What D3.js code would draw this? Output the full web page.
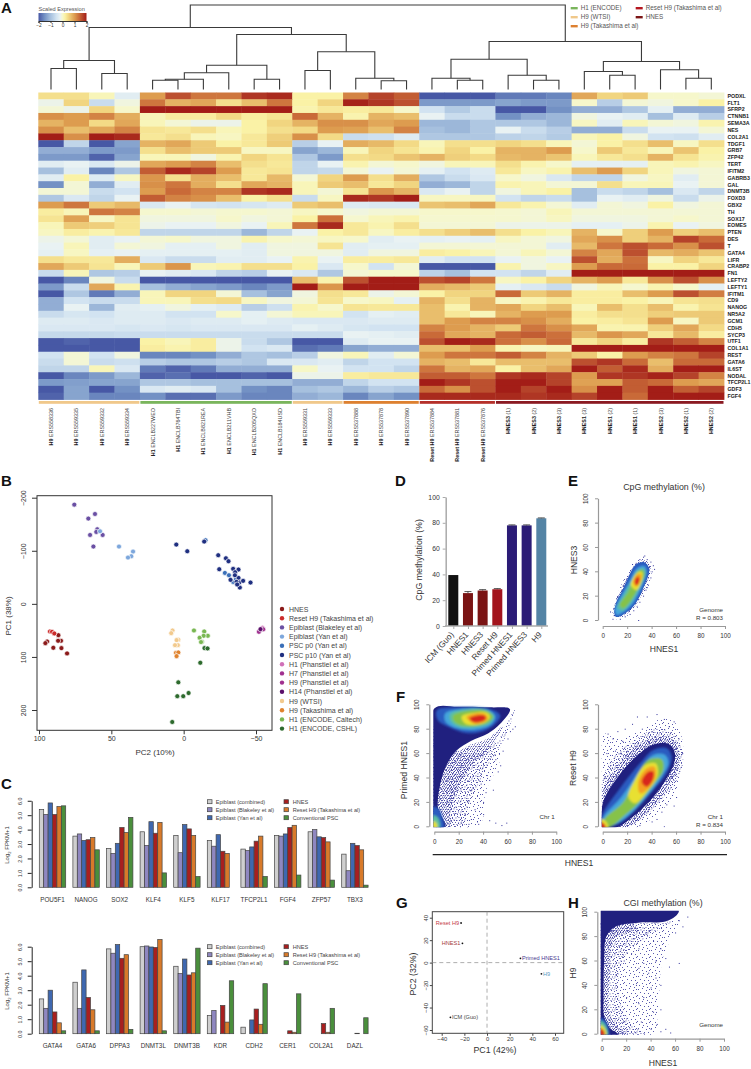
<!DOCTYPE html>
<html><head><meta charset="utf-8">
<script src="https://cdn.jsdelivr.net/npm/d3@7/dist/d3.min.js"></script>
<style>
html,body{margin:0;padding:0;background:#fff}
svg{display:block}
text{font-family:"Liberation Sans",Arial,sans-serif;fill:#333}
</style></head><body><svg id="c" width="751" height="1069"></svg>
<script>
// ---------- A: heatmap ----------
const genes=["PODXL","FLT1","SFRP2","CTNNB1","SEMA3A","NES","COL2A1","TDGF1","GRB7","ZFP42","TERT","IFITM2","GABRB3","GAL","DNMT3B","FOXD3","GBX2","TH","SOX17","EOMES","PTEN","DES","T","GATA4","LIFR","CRABP2","FN1","LEFTY2","LEFTY1","IFITM1","CD9","NANOG","NR5A2","GCM1","CDH5","SYCP3","UTF1","COL1A1","REST","GATA6","IL6ST","NODAL","TFCP2L1","GDF3","FGF4"];
const samplePrefix=["H9","H9","H9","H9","H1","H1","H1","H1","H1","H1","H9","H9","H9","H9","H9","Reset H9","Reset H9","Reset H9","HNES3","HNES3","HNES3","HNES1","HNES1","HNES1","HNES2","HNES2","HNES2"];
const sampleSuffix=["ERS558336","ERS559335","ERS559332","ERS559334","ENCLB227WEO","ENCLB764TBI","ENCLB821REA","ENCLB211VHB","ENCLB205QXO","ENCLB184USD","ERS559331","ERS559333","ERS537888","ERS537878","ERS537890","ERS537884","ERS537881","ERS537876","(1)","(2)","(3)","(3)","(2)","(1)","(3)","(1)","(2)"];
const heatValues=[
[.4,.4,.1,-.3,1,1.6,1.3,1.3,1.8,1.9,.2,.2,1.2,1.7,1.5,-2,-2,-2,-1.7,-1.7,-1.6,.9,.5,.6,0,0,-.05],
[-.15,.5,-.6,-.1,1.3,.8,.9,.4,.7,1.3,.2,.5,1.95,1.8,1.6,-1.4,-1.4,-1.4,-1.3,-1.4,-1.4,0,-.8,-.05,-.1,0,.2],
[-.05,-.15,.5,0,2,2,2,2,2,2,.15,.3,.25,.3,0,-.5,-.85,-.6,-2,-2,-1.5,-1.2,-1.2,-.9,-.25,-1.2,-1.2],
[1.1,1,1.2,.85,.1,.25,.25,.45,.25,.35,1.4,.8,.15,.8,.7,-.2,-.6,-.6,-1.5,-1.2,-1.1,-.1,-.2,-.3,-1,-.35,-.8],
[.8,1,.45,.9,.1,-.05,-.15,-.15,.2,.5,.8,1.1,1.1,.9,1,-1.1,-1.1,-.9,-.9,-.9,-1.1,.05,-.3,.1,-.05,-.1,.15],
[1.1,.7,.9,1.2,.35,.3,.4,.1,.2,.4,.45,1,.95,.7,1.2,-1,-1.1,-.9,-.2,-.6,-.8,-1.2,-1.2,-.6,-.2,-.2,-.05],
[2,1.1,2,1.9,.3,.4,.1,.05,.3,.55,1.1,.45,-.6,-.55,-.35,-.9,-.9,-.9,-.75,-.7,-.85,.1,.2,-.1,-.5,-.55,-.3],
[-2,-.7,-2,-1.3,.8,.9,.6,.2,.3,.6,-.8,-.2,.85,.75,.45,.1,.4,.4,.5,.4,.1,-.05,.2,.4,.7,.05,.4],
[-1.2,-1.2,-1.4,-1.4,.4,.7,.6,.6,.05,.05,-1.3,-1.1,.1,.5,.35,.15,.5,.2,.8,.8,1,0,.6,.3,.1,.65,.2],
[-1.4,-1.4,-1.9,-1.3,.1,.1,-.1,.15,.5,.35,-.9,-1.4,.4,.45,.65,.8,.55,.45,.75,.8,.65,.1,.3,.4,.8,.35,.15],
[-.3,-.2,-.4,-.15,.9,1,1.2,.7,.4,.3,-.7,-.2,.15,-.05,0,-.1,.1,.1,.4,.15,0,-.25,-.25,-.25,.1,.15,.05],
[-1,-.3,-1.6,-.9,1.5,1.9,1.7,1,.3,.35,-.7,-.65,-.05,-.2,-.05,-.25,-.5,-.35,.3,.05,.15,.7,1,.5,.1,-.1,-.05],
[-.3,.2,-.35,.05,1.05,.4,.85,.7,.3,.75,-.05,.5,1,.4,.85,-.9,-.6,-.4,0,-.1,-.4,-.7,-.7,-.1,.05,-.3,-.05],
[-1.5,-.05,-1.2,-.3,1.1,1.3,.85,.4,.9,.8,.1,.6,.7,.3,.5,-1.2,-1.1,-.7,.15,.1,-.05,-.05,.4,.1,.1,-.2,-.05],
[-.05,-.05,-.6,-.5,1,1.4,1.2,1.2,1.8,1.9,.1,-.05,.35,1.05,.8,-.4,-.2,-.7,-.1,.1,.2,-1,-.6,-.7,-1,-.4,-.7],
[-.9,-.4,-.7,-.2,1.5,1.2,1.1,.7,.2,.4,-.6,.05,1.9,1.8,2,.05,.05,.05,-.5,-.7,-.6,-1,-.2,-.3,-.1,-.6,-.15],
[1,1.3,.6,.75,-.4,-.2,-.45,-.5,-.45,-.35,.6,.7,-.35,-.4,-.4,.65,.7,.9,.3,.15,-.05,-.3,-.05,-.1,.2,-.1,-.05],
[.25,.1,1.3,1.2,-.02,-.02,-.05,-.02,-.02,-.05,.05,-.02,-.1,-.05,-.05,0,0,0,-.02,-.05,.1,-.05,-.05,-.05,-.05,-.05,-.05],
[.35,.95,.05,.35,-.1,-.1,-.1,0,-.1,-.05,.2,1.35,-.02,.1,.15,-.02,-.02,-.02,-.02,-.05,.05,-.1,-.1,-.1,-.05,0,-.05],
[.1,.6,.55,.35,-.15,-.2,-.2,-.1,-.2,.1,1.3,1.9,.3,.15,.4,-.05,-.05,-.05,-.15,-.15,-.15,-.25,-.25,-.15,.15,-.2,-.1],
[.05,.25,.15,.3,-.7,-.7,-.7,-.7,-1.1,-.7,-.2,.2,.3,.05,.25,.4,.55,.7,.4,.2,.1,.8,0,.55,1,.55,.7],
[-.15,-.05,-.3,-.2,-.05,0,-.1,-.1,.15,0,-.05,.05,0,-.3,-.2,-.25,-.2,-.25,.05,-.05,-.1,.9,1.1,.55,.8,1.7,1.4],
[-.2,.1,-.3,-.05,-.1,-.25,-.25,-.1,-.3,-.1,-.1,.35,-.3,-.25,-.25,-.05,-.05,-.05,-.05,-.05,-.3,.75,1.3,1.6,1.4,1.1,1.6],
[-.25,.05,-.25,-.2,-.25,-.25,-.25,-.25,-.3,-.1,-.1,-.1,-.3,-.1,-.1,.25,.2,.1,-.05,.1,-.05,1.2,.9,1.6,.75,.85,.65],
[.4,.3,.3,.85,-.4,-.6,-.6,-.3,-.3,-.2,.15,-.2,.25,.25,.3,-.3,-.5,-.5,-.2,-.1,-.2,1.6,.85,1.35,.05,.5,.3],
[.9,.6,.35,.1,.6,1.05,.1,.15,.4,.4,.2,-.4,0,-.5,-.05,-2,-2,-2,.15,-.1,.05,1,1.4,1.4,.2,.2,.5],
[-.6,.1,-.9,-.8,-.2,-.3,-.4,-.7,-.8,-.2,-.4,-.9,-.05,0,0,-.75,-1,-.5,-.5,-.7,-.3,2,2,2,2,2,2],
[-2,-1.6,-.1,-.6,-2,-2,-2,-2,-2,-2,.7,.15,1.6,2,2,1.6,1.7,1.3,.05,.2,.5,.8,1,.3,1.1,1.6,1.1],
[-1.4,-.6,.9,.15,-1,-1.2,-1.3,-1.4,-1.6,-1.4,2,1.05,2,2,2,.85,.75,.6,-.25,-.4,-.6,-.1,.1,-.02,.15,0,-.25],
[-2,-.9,-1.7,-1.2,.1,.5,.5,-.05,-1,-1.3,-.1,.4,.3,-.15,-.05,.2,.5,.5,1.4,.6,.8,.25,.25,.7,1,1.6,1.25],
[-1.2,-.5,-.6,-.6,.1,.1,.4,.45,.05,-.1,-.05,.35,0,.05,-.25,.8,.4,.8,.05,.15,.3,.25,.25,.2,.1,.35,.4],
[-1.2,-.2,-1.1,-.3,-.25,-.1,-.25,-.35,-.8,-.55,.15,0,.35,.3,.3,.7,.15,.8,.9,.5,.7,.1,.7,.4,.7,.15,.35],
[-.6,-.45,-.5,-.35,-.35,-.5,-.5,0,-.25,-.05,.1,.1,-.5,-.25,-.3,.7,.3,.1,.8,1,1,.25,.4,.4,.55,.6,.6],
[-.35,-.35,-.4,-.35,-.35,-.4,-.35,-.35,-.25,-.35,-.4,-.4,-.4,-.35,-.35,.7,1,1.2,1.2,1.1,.85,.2,.25,.35,1,.05,.6],
[-.4,-.4,-.4,-.45,-.4,-.45,-.4,-.4,-.4,-.4,-.25,-.35,-.45,-.5,-.5,1.2,1,.8,.6,1.3,1.1,.9,.15,.15,.55,.9,.45],
[-.65,-.65,-.65,-.6,-.6,-.6,-.6,-.6,-.6,-.6,-.6,-.6,-.2,-.25,-.3,1.4,.9,.8,1.4,1.5,1.35,.75,1.05,.9,.3,.75,.25],
[-2,-1.9,-2,-2,.2,.1,.25,-.15,-.6,-.9,-2,-2,-.35,-.2,-.2,1.6,2,1.9,1.35,1.1,1.4,.3,.5,.25,1.8,1.5,1.2],
[-2,-2,-2,-2,.25,.15,.25,-.15,-.5,-.4,-1.8,-1.7,-1.3,-1.2,-1.2,.7,.7,1,.15,.05,.1,2,2,2,2,2,2],
[-.5,-.05,-.5,-.1,-1.6,-1.6,-1.5,-1.2,-.9,-1,-.8,-.1,.1,-.3,-.05,1,1.3,1.3,1.5,1.2,.8,.6,.2,1,1.2,1.3,1.7],
[-.6,-.05,-.6,-.55,-.8,-.9,-.9,-.8,-.9,-.4,-.4,-.3,-.7,-.5,-.5,.8,.7,.3,.7,.7,.7,1.6,1.8,1.4,.7,1.4,1.4],
[-.7,-.7,.1,-.4,-1.7,-1.9,-1.7,-1.2,-1.2,-1.2,.02,-.2,-.5,-.5,-.7,1.3,.8,.9,.2,.7,.9,2,1.5,1.9,.85,2,2],
[-2,-1.6,-1.4,-1.1,-1.9,-1.8,-2,-2,-1.9,-2,-.15,-.15,.25,.3,.3,1.5,1.5,1.3,1.8,1.9,1.7,1,1.8,1.8,1.95,1.7,1.2],
[-1.4,-1.35,-1.3,-1.3,-.9,-.9,-1,-1,-1,-1,-1.2,-1.2,-.7,-.5,-.5,2,1.8,1.6,2,2,1.7,.95,.95,1.5,1.4,1,.9],
[-2,-1.3,-2,-1.5,-.4,-.3,-.4,-1,-1.5,-1.6,-1,-.9,-1.1,-.8,-.9,1.4,1.1,1.6,2,1.7,2,1.1,2,1.5,2,1.5,1.7],
[-1.9,-1.3,-1.6,-1.6,-1.5,-1.8,-1.8,-1.4,-1.6,-1.6,-1.2,-1.1,-1.6,-1.3,-1.5,1.9,1.9,1.9,1.9,1.8,1.9,1.7,2,1.4,2,2,2]
];
const heatStops=[-2,-1.5,-1,-.5,-.2,0,.2,.5,1,1.4,1.7,2];
const heatColors=["#4758a5","#7391c4","#a6c0de","#d2e3f1","#e9f2f3","#f6f7cb","#faf2a6","#f1d580","#dd9c4f","#c96a38","#b5432a","#a31d17"];
const n=(h,a,b)=>({h,c:[a,b].map(v=>typeof v==="number"?{h:0,leaf:v}:v)});
const dendrogram=n(84.5,
  n(62,n(29,n(21,0,1),n(16,2,3)),
     n(55,n(24.3,n(16.7,n(10.3,n(9.3,4,5),6),7),n(10.3,8,9)),
          n(37.7,n(19,10,11),n(11.3,12,n(8.7,13,14))))),
  n(48,n(30.3,n(11.3,15,n(9.3,16,17)),n(14.3,18,n(9.3,19,20))),
       n(28,n(18,21,n(14.3,22,23)),n(19.7,24,n(11.3,25,26)))));
const stripGroups=[["#f0c88a",0,3],["#7ab55c",4,9],["#f0c88a",10,11],["#dd8030",12,14],["#b5302a",15,17],["#8a1a22",18,26]];
const legendALabels=[["H1 (ENCODE)","#7ab55c"],["H9 (WTSI)","#f0c88a"],["H9 (Takashima et al)","#dd8030"],["Reset H9 (Takashima et al)","#b5161f"],["HNES","#7b1515"]];

// ---------- B: PCA ----------
const pcaSeries=[
["HNES","#8b1a1a",[[86.6,59],[84.8,69.6],[86.8,69.6],[94.4,70.9],[95.6,74],[90.1,82.8],[84.5,83.4],[80.6,93.4]]],
["Reset H9 (Takashima et al)","#cc2b2b",[[92.4,52],[91,52.7],[89.4,55.8]]],
["Epiblast (Blakeley et al)","#6a4fa3",[[75.6,-186.9],[65.9,-160.6],[61.3,-169.3],[59.7,-140.5],[60.4,-135.5],[56,-129.8],[64.7,-129.8],[62.4,-107.9]]],
["Epiblast (Yan et al)","#7da7dc",[[57.8,-136.7],[44.7,-107.9],[35,-98.5],[36.2,-89.7],[38.5,-87.2]]],
["PSC p0 (Yan et al)","#3a6fb8",[[-15.1,-119.8],[-28.5,-58.3],[-31.3,-53.9],[-34.2,-41.4],[-36.1,-46.4]]],
["PSC p10 (Yan et al)","#1f2f80",[[5.1,-111.6],[-2.5,-99.1],[-14.2,-117.3],[-23.9,-91.6],[-29.2,-85.9],[-31,-80.3],[-24.6,-65.2],[-34.2,-65.9],[-37.9,-64.6],[-35.6,-59.6],[-37.9,-48.9],[-32.4,-45.2],[-38.4,-40.1],[-41.1,-43.3],[-46.2,-40.1],[-38.8,-30.7],[-36.5,-41.4],[-35.4,-53.9],[-37,-36.4]]],
["H1 (Phanstiel et al)","#d070b8",[[-54.5,45]]],
["H7 (Phanstiel et al)","#a0308f",[[-55,48]]],
["H9 (Phanstiel et al)","#a0308f",[[-52,52.7]]],
["H14 (Phanstiel et al)","#5b0f6a",[[-53.1,47.7]]],
["H9 (WTSI)","#f2ca8e",[[7.7,50.2],[8.6,55.2],[3.7,67.7],[4.9,68.3],[4,77.8],[6,77.8]]],
["H9 (Takashima et al)","#e0832e",[[5.3,92.2],[3.7,91.6],[4.9,98.5]]],
["H1 (ENCODE, Caltech)","#79b752",[[-7.1,50.2],[-14.2,52],[-16.7,60.2],[-13.8,60.2],[-11,64],[-12.6,71.5],[-12,72]]],
["H1 (ENCODE, CSHL)","#2d6a2d",[[-14.4,83.4],[-16.5,84],[-11.5,111],[3.7,147.9],[-3.4,168],[.3,174],[4.4,174],[7.9,222.6]]]
];

// ---------- C: bars ----------
const barSeries=["Epiblast (combined)","Epiblast (Blakeley et al)","Epiblast (Yan et al)","HNES","Reset H9 (Takashima et al)","Conventional PSC"];
const barColors=["#cfcfcf","#8f87c0","#3f68b0","#a81f1f","#d87a2a","#4a8f3c"];
const barGenesTop=["POU5F1","NANOG","SOX2","KLF4","KLF5","KLF17","TFCP2L1","FGF4","ZFP57","TBX3"];
const barValuesTop=[[5.4,5.05,5.85,5.05,5.6,5.65],[3.55,3.7,3.25,3.3,3.45,2.6],[2.7,2.35,3.05,4.15,3.8,4.85],[3.85,2.9,4.55,3.75,4.5,1],[3.6,2.4,4.35,4.05,3.6,.75],[3.25,2.85,3.65,2.5,2.35,0],[2.65,2.55,2.8,3.2,3.55,.75],[3.6,3.55,3.7,4.15,4.3,.85],[3.85,4,3.5,3.45,3.15,.5],[2.3,1.15,3.05,2.9,2.6,.15]];
const barGenesBottom=["GATA4","GATA6","DPPA3","DNMT3L","DNMT3B","KDR","CDH2","CER1","COL2A1","DAZL"];
const barValuesBottom=[[2.4,1.75,3,1.5,.75,.2],[3.55,1.75,4.4,2.5,1.65,.2],[5.85,5.55,6.15,5.2,5.45,.3],[6,6.05,5.98,5.95,6.5,.2],[4.65,4.15,5.15,4.05,4.2,5.9],[1.25,1.6,0,1.95,.8,3.65],[.45,0,.95,1.7,.65,3.45],[0,0,0,.2,.1,2.75],[0,0,0,.7,.1,1.75],[0,0,0,.03,0,1.1]];

// ---------- D: methylation bars ----------
const methSamples=["ICM (Guo)","HNES1","HNES3","Reset H9","Primed HNES1","Primed HNES3","H9"];
const methValues=[39.5,25.5,27.5,28.5,78,78,83.5];
const methErrors=[0,1.2,.7,.5,.4,.4,.3];
const methColors=["#111111","#7a1414","#7a1414","#a3151d","#2b1c76","#2b1c76","#5484a5"];

// ---------- density outlines, outermost first ----------
const densityColors=["#20207f","#2a5cc0","#45a5dc","#5cc0a0","#86c24a","#e8e030","#f5a020","#d8281a"];
const densityE=[
[1,[[9.5,6],[12,17],[15,22],[20,33],[27,45.5],[34,47.5],[38,42],[34,28],[25,11],[16,4],[11,2.5]]],
[2,[[10,8.2],[14,17.8],[21,30],[27.8,42.4],[34,44.3],[36,39.6],[31.9,27.3],[23.7,12.3],[15.5,5.5],[11.4,4]]],
[3,[[12,10],[17,20],[24,33],[29,41],[34,42],[35,38],[30,26],[23,14],[16,7.5]]],
[4,[[14,12.3],[21,23.2],[27,38.3],[31.9,41.5],[34,38.3],[29,26],[22.3,15],[16.8,9.6]]],
[5,[[23,28.7],[27.8,38.3],[31.9,39.6],[32.4,34],[27.8,24.6]]],
[6,[[25,31.4],[28.6,37.7],[31.3,37.7],[31,32.2],[27.2,27.3]]],
[7,[[26.4,32.8],[28.6,35.5],[30,34],[28.6,28.7],[26.7,29.3]]]
];
const densityF1=[
[0,[[0,96.5],[20,98],[46,97.5],[62,96],[54,84],[44,76],[30,70],[18,62],[10,50],[5,35],[3,15],[7,6],[9,0],[-1,-1],[-1,50]]],
[1,[[2,95],[18,97.5],[46,96],[54,91],[50,84],[40,78],[26,76.5],[13,81],[3,87]]],
[2,[[9,92.6],[21,96],[43,96],[50,90],[46,83],[32,79],[18,80.5],[9,86]]],
[3,[[13,92],[24,95.5],[43,95],[49,90],[45,84],[32,81],[19,82],[13,87]]],
[4,[[15.6,91],[29,95],[43,94.5],[48,90],[44,85],[32,82],[21,83],[15.6,87]]],
[5,[[22.4,90],[33,93],[43,93],[45.6,89.5],[41.5,85],[32,83],[25,84.5]]],
[6,[[26.5,89.5],[34.7,92.6],[41.5,92],[44,88.5],[40,85],[32,84.2]]],
[7,[[29,88.5],[36,91],[41.5,90.4],[42,87.7],[37.5,85.5],[32,85.5]]],
[1,[[-1,16],[4,14],[7,6],[8,-1],[-1,-1]]],
[3,[[-1,9],[3,7],[4.5,-1],[-1,-1]]],
[5,[[-1,4],[1.5,3],[2.5,-1],[-1,-1]]]
];
const densityF2=[
[0,[[-1,12],[1,22],[12,40],[26,56],[41.5,67],[54,67.5],[58.5,62],[58.5,52],[48.6,33.5],[35,17],[21,5],[11.4,-1],[-1,-1]]],
[1,[[-1,8],[14,31],[30.5,51.6],[41.5,62.6],[52.3,64],[56.4,57],[52.3,43.4],[41.4,29.8],[27.8,14.8],[14,2.5],[2,-1],[-1,-1]]],
[2,[[0,6],[15.5,24.3],[30.5,46],[41.4,58.5],[51,58.5],[53.7,51.6],[48.2,40.7],[37.3,25.7],[23.7,10.7],[11.4,2],[2,-1]]],
[4,[[1,5],[17,20.2],[27.8,40.7],[37.3,54.4],[48.2,55],[49.6,46.2],[41.4,33.9],[29.2,18.9],[17,8],[8.7,1],[3,-1]]],
[5,[[21,24.3],[26.4,38],[34.6,50.3],[43.3,51.6],[45,42],[37.3,29.8],[26.4,18.9]]],
[6,[[29.2,36.6],[36,47.5],[42.2,48.9],[43.3,40.7],[36,29.8],[30.5,27]]],
[7,[[31.9,36.6],[37.3,44.8],[41.4,44.8],[40.9,38],[36,32.5]]],
[5,[[-1,6],[3,3.5],[4.5,-1],[-1,-1]]],
[7,[[-1,3.5],[1.6,1.5],[2.5,-1],[-1,-1]]]
];
const densityH=[
[0,[[-1,101],[63,101],[60,96],[52,92],[30,91],[12,88],[4,80],[2,60],[1.5,30],[2,14],[7,4],[12,1],[14,-1],[-1,-1]]],
[1,[[-1,13],[3.5,10],[6,3],[6,-1],[-1,-1]]],
[3,[[-1,10.5],[2.5,8],[5,-1],[-1,-1]]],
[5,[[-1,7],[2,5],[3.8,-1],[-1,-1]]],
[7,[[-1,4.5],[1.2,3],[2.5,-1],[-1,-1]]]
];
// outlines of the stippled zones: [tile density, outline]
const stippleE=[["medium",[[8,5],[10,14],[14,26],[20,38],[26,47],[34,51],[40,46],[39,34],[33,20],[25,8],[16,1],[10,1]]],["solid",[[9,5],[12,19],[20,35],[27,46],[34,49],[39,44],[36,30],[26,11],[16,3]]]];
const stippleF1=[["solid",[[-1,82],[18,62],[30,67],[44,72],[56,82],[46,64],[32,52],[20,32],[13,12],[13,-1],[-1,-1]]],["thick",[[-1,74],[25,58],[50,68],[62,90],[66,96],[56,68],[44,50],[34,30],[26,10],[24,-1],[-1,-1]]],["medium",[[18,58],[45,66],[54,58],[42,28],[38,3],[18,-1],[10,20]]]];
const stippleF2=[["solid",[[-1,24],[10,47],[24,63],[42,73],[56,72],[62,62],[62,50],[52,30],[38,13],[24,1],[13,-1]]],["thick",[[-1,36],[10,58],[25,70],[44,80],[58,76],[65,60],[61,38],[50,24],[34,8],[18,-1],[-1,-1]]],["medium",[[0,40],[0,76],[12,72],[30,78],[48,88],[60,84],[66,62],[60,30],[45,10],[22,-1]]]];
const stippleH=[["solid",[[-1,92],[25,90],[30,86],[10,78],[7,50],[6,20],[12,7],[22,-1],[-1,-1]]],["thick",[[-1,92],[50,91],[60,93],[38,80],[18,62],[14,30],[24,8],[36,-1],[-1,-1]]],["medium",[[6,85],[56,88],[64,94],[50,62],[46,20],[42,-1],[12,-1],[12,45]]]];
const pointsE=[[9,4],[10,9],[11,14],[12,19],[15,24],[17,29],[19,34],[22,38],[25,43],[27,47],[30,50],[33,52],[36,50],[39,48],[41,45],[40,40],[39,35],[37,29],[35,25],[33,20],[30,15],[28,11],[25,8],[22,5],[18,3],[14,1],[8,1],[24,46],[34,53],[42,42],[36,27],[29,0],[6,7]];
const pointsF1=[[30,30],[35,25],[40,20],[45,38],[52,45],[54,50],[48,30],[25,10],[30,6],[35,4],[45,5],[50,3],[59,3],[22,3],[56,62],[60,72],[62,78],[66,82],[64,80],[53,60],[50,55],[43,42],[40,10],[33,14],[27,21],[38,35],[42,28],[55,1],[36,2],[28,2]];
const pointsF2=[[4,76],[8,72],[12,78],[14,60],[16,70],[20,62],[26,68],[24,84],[28,90],[36,90],[44,92],[50,88],[54,82],[58,86],[62,72],[65,60],[60,52],[56,40],[60,24],[58,17],[52,18],[48,12],[44,6],[40,4],[30,1],[50,0],[3,60],[6,50],[2,40],[10,62],[18,80],[32,80],[40,78],[47,72]];
const pointsH=[[70,96],[63,93],[66,88],[60,83],[63,58],[55,55],[52,62],[48,70],[42,76],[36,82],[30,70],[24,66],[18,60],[38,50],[44,46],[48,40],[40,38],[34,30],[30,25],[42,18],[48,20],[45,8],[52,4],[56,1],[40,4],[48,2],[32,10],[28,40],[20,30],[14,72],[8,84],[26,78],[34,58],[44,60],[30,54]];

// ---------- G: PCA of methylomes ----------
const methPca=[["Reset H9",-22.9,35.3,"#c43a45","end"],["HNES1",-21.7,17.2,"#a33a3a","end"],["Primed HNES1",29.5,3.8,"#4a3a90","start"],["H9",48,-10,"#5a9ac0","start"],["ICM (Guo)",-32.3,-48.7,"#444444","start"]];

// =========== drawing ===========
const svg=d3.select("#c");
const defs=svg.append("defs");
const blur=defs.append("filter").attr("id","soft").attr("x","-20%").attr("y","-20%").attr("width","140%").attr("height","140%");
blur.append("feGaussianBlur").attr("stdDeviation",1.1);
const tileDots={
 solid:[7,[[0,0],[2,.5],[4,0],[5.8,1],[1,2],[3,2.2],[5,2.6],[.2,3.8],[2,4],[4,4.2],[6,4.4],[1,5.6],[3,5.8],[5,6]]],
 thick:[11,[[0,0],[3,1],[6,0],[9,1],[1,3],[4.5,3.5],[7.5,3],[10,4],[0,6],[2.5,5.5],[5.5,6],[8,6],[1,8],[4,8],[7,8.5],[9.5,8.5],[2.5,10],[5.5,10],[8.5,10.5],[10.3,6.5]]],
 medium:[13,[[1,1],[5,0],[9,2],[12,1],[3,4],[7,5],[11,5],[0,7],[5,8],[9,9],[12,8],[2,10],[6,11],[10,12]]]};
Object.entries(tileDots).forEach(([k,[s,pts]])=>{
  const p=defs.append("pattern").attr("id","st-"+k).attr("patternUnits","userSpaceOnUse").attr("width",s).attr("height",s);
  pts.forEach(([x,y])=>p.append("rect").attr("x",x).attr("y",y).attr("width",.9).attr("height",.9).attr("fill","#30309a"));
});
const T=(g,x,y,s,size,o={})=>{const t=g.append("text").attr("x",x).attr("y",y).attr("font-size",size).text(s);
  if(o.anchor)t.attr("text-anchor",o.anchor); if(o.weight)t.attr("font-weight",o.weight); if(o.fill)t.style("fill",o.fill);
  if(o.rot!==undefined)t.attr("transform",`rotate(${o.rot} ${x} ${y})`); return t;};
[["A",1,13],["B",1,486],["C",1,789],["D",395,486],["E",568,486],["F",396,702],["G",396,908],["H",568,908]].forEach(d=>T(svg,d[1],d[2],d[0],15,{weight:"bold",fill:"#111"}));

// heatmap
const A=svg.append("g");
const hx=d3.scaleBand(d3.range(27),[38.3,724]);
const hy=d3.scaleBand(genes,[92.5,399.5]);
const hc=d3.scaleLinear(heatStops,heatColors);
heatValues.forEach((row,i)=>A.append("g").selectAll("rect").data(row).join("rect")
  .attr("x",(d,j)=>hx(j)).attr("y",hy(genes[i])).attr("width",hx.bandwidth()+.4).attr("height",hy.bandwidth()+.4).attr("fill",d=>hc(d)));
genes.forEach(g=>T(A,727.5,hy(g)+hy.bandwidth()/2+1.9,g,5.3,{weight:"bold",fill:"#222"}));
stripGroups.forEach(([c,a,b])=>A.append("rect").attr("x",hx(a)+.5).attr("y",401).attr("width",hx(b)+hx.bandwidth()-hx(a)-1).attr("height",2.8).attr("fill",c));
samplePrefix.forEach((p,i)=>{const x=hx(i)+hx.bandwidth()/2+2;
  const t=A.append("text").attr("x",x).attr("y",408).attr("font-size",5.4).attr("text-anchor","end").attr("transform",`rotate(-90 ${x} 408)`);
  t.append("tspan").attr("font-weight","bold").style("fill","#222").text(p+" ");
  t.append("tspan").style("fill","#444").text(sampleSuffix[i]);});
// dendrogram
const dh=d3.scaleLinear([0,84.5],[89.5,5]);
const root=d3.hierarchy(dendrogram,d=>d.c);
root.eachAfter(d=>{d.px=d.children?d3.mean(d.children,c=>c.px):hx(d.data.leaf)+hx.bandwidth()/2;});
root.descendants().filter(d=>d.children).forEach(d=>{const [a,b]=d.children;
  A.append("path").attr("fill","none").attr("stroke","#3a3a3a").attr("stroke-width",1.1)
   .attr("d",`M${a.px},${dh(a.data.h)}V${dh(d.data.h)}H${b.px}V${dh(b.data.h)}`);});
// colour key
const keyX=d3.scaleLinear([-2,2],[38.5,86.5]);
defs.append("linearGradient").attr("id","key").selectAll("stop").data(heatStops).join("stop")
  .attr("offset",d=>(d+2)/4).attr("stop-color",d=>hc(d));
A.append("rect").attr("x",keyX(-2)).attr("y",13).attr("width",keyX(2)-keyX(-2)).attr("height",8).attr("fill","url(#key)");
T(A,38.5,11,"Scaled Expression",5.6,{fill:"#555"});
const keyAxis=A.append("g").attr("transform","translate(0,21)").call(d3.axisBottom(keyX).tickValues([-2,-1,0,1,2]).tickSize(2).tickPadding(0.5).tickFormat(d3.format("d")));
keyAxis.selectAll("text").attr("font-size",4.8).style("fill","#333"); keyAxis.select(".domain").attr("stroke","#333"); keyAxis.selectAll("line").attr("stroke","#333");
legendALabels.forEach(([s,c],i)=>{const x=i<3?570.7:635.7,y=8+9*(i<3?i:i-3);
  A.append("rect").attr("x",x).attr("y",y-1).attr("width",7).attr("height",2.4).attr("fill",c);
  T(A,i<3?580.7:645.7,y+2.2,s,6.3,{fill:"#555"});});

// generic styled axis
function styleAxis(g,color,size){g.selectAll("text").attr("font-size",size).style("fill","#333");
  g.selectAll("line").attr("stroke",color); g.select(".domain").attr("stroke",color);}
function axX(parent,s,y,vals,o={}){const g=parent.append("g").attr("transform",`translate(0,${y})`)
  .call(d3.axisBottom(s).tickValues(vals).tickSize(o.len||3).tickSizeOuter(0).tickPadding(o.pad||2));
  styleAxis(g,o.color||"#999",o.size||6.3); g.select(".domain").attr("stroke-width",o.w||1.2); g.selectAll("line").attr("stroke-width",o.tw||1);
  if(o.noDomain)g.select(".domain").remove(); return g;}
function axY(parent,s,x,vals,o={}){const g=parent.append("g").attr("transform",`translate(${x},0)`)
  .call(d3.axisLeft(s).tickValues(vals).tickSize(o.len||3).tickSizeOuter(0));
  styleAxis(g,o.color||"#999",o.size||6.3); g.select(".domain").attr("stroke-width",o.w||1.2); g.selectAll("line").attr("stroke-width",o.tw||1);
  g.selectAll("text").attr("x",0).attr("dy",0).attr("y",-(o.off||12)).attr("transform","rotate(-90)").style("text-anchor","middle");
  if(o.noDomain)g.select(".domain").remove(); return g;}

// B
const B=svg.append("g");
const bx=d3.scaleLinear([100,-50],[39,256]), by=d3.scaleLinear([-200,200],[497.7,710]);
B.append("rect").attr("x",37).attr("y",495.7).attr("width",235).attr("height",234.6).attr("fill","none").attr("stroke","#333").attr("stroke-width",1);
axX(B,bx,730.3,[100,50,0,-50],{color:"#333",len:4,pad:2,size:7,noDomain:true});
axY(B,by,37,[-200,-100,0,100,200],{color:"#333",len:5,off:11,size:7,noDomain:true});
pcaSeries.forEach(([name,c,pts])=>B.append("g").selectAll("circle").data(pts).join("circle")
  .attr("cx",d=>bx(d[0])).attr("cy",d=>by(d[1])).attr("r",2.5).attr("fill",c).attr("stroke","#fff").attr("stroke-width",.7));
pcaSeries.forEach(([name,c],i)=>{const y=609+i*9.2;
  B.append("circle").attr("cx",282).attr("cy",y).attr("r",2.2).attr("fill",c);
  T(B,289,y+2.5,name,7,{fill:"#444"});});
T(B,155,755,"PC2 (10%)",8,{anchor:"middle"});
T(B,11,616,"PC1 (38%)",8,{anchor:"middle",rot:-90});

// C
function drawBars(genesList,values,y0,unit,top,labelY,legY,titleY){
  const G=svg.append("g");
  const gx=d3.scaleBand(genesList,[39.3,368.1]).paddingInner(.214);
  const ix=d3.scaleBand(d3.range(6),[0,gx.bandwidth()]);
  const y=d3.scaleLinear([0,top],[y0,y0-top*unit]);
  genesList.forEach((g,i)=>{
    G.append("g").attr("transform",`translate(${gx(g)},0)`).selectAll("rect").data(values[i]).join("rect")
     .attr("x",(d,j)=>ix(j)).attr("y",d=>y(d)).attr("width",ix.bandwidth()).attr("height",d=>y0-y(d))
     .attr("fill",(d,j)=>barColors[j]).attr("stroke","#444").attr("stroke-width",.7);
    T(G,gx(g)+gx.bandwidth()/2,labelY,g,6.3,{anchor:"middle",fill:"#333"});});
  axY(G,d3.scaleLinear([0,6],[y0,y0-6*unit]),31.7,d3.range(7),{color:"#222",len:4,off:10,size:5.4,w:1});
  const t=G.append("text").attr("transform",`translate(9,${titleY}) rotate(-90)`).attr("text-anchor","middle").attr("font-size",6);
  t.append("tspan").text("Log");t.append("tspan").attr("font-size",4.2).attr("dy",1.5).text("2");t.append("tspan").attr("dy",-1.5).text(" FPKM+1");
  barSeries.forEach((s,i)=>{const col=i<3?0:1,row=i%3;const xx=col?284:207.5,yy=legY+row*8;
    G.append("rect").attr("x",xx).attr("y",yy-2).attr("width",4.5).attr("height",4).attr("fill",barColors[i]).attr("stroke","#444").attr("stroke-width",.7);
    T(G,col?292.7:215.7,yy+2,s,5.6,{fill:"#444"});});
}
drawBars(barGenesTop,barValuesTop,887.3,14.42,6,901.5,801.7,845);
drawBars(barGenesBottom,barValuesBottom,1033.7,14.5,6.6,1047.5,946.7,991);

// D
const D=svg.append("g");
const dy=d3.scaleLinear([0,100],[626,497]);
const dxs=d3.scalePoint(methSamples,[453.3,541.3]);
methSamples.forEach((s,i)=>{const x=dxs(s);
  D.append("rect").attr("x",x-5).attr("y",dy(methValues[i])).attr("width",10).attr("height",626-dy(methValues[i])).attr("fill",methColors[i]);
  if(methErrors[i]){D.append("path").attr("stroke","#333").attr("stroke-width",.8).attr("fill","none")
    .attr("d",`M${x-3.5},${dy(methValues[i]+methErrors[i])}H${x+3.5}M${x},${dy(methValues[i]+methErrors[i])}V${dy(methValues[i])}`);}
  T(D,x+1,635,s,8.3,{anchor:"end",rot:-48,fill:"#333"});});
const dyAxis=D.append("g").attr("transform","translate(445.7,0)").call(d3.axisLeft(dy).tickValues([0,20,40,60,80,100]).tickSize(3).tickSizeOuter(0));
styleAxis(dyAxis,"#aaa",6.8); dyAxis.select(".domain").attr("stroke-width",1.5);
const dxAxis=D.append("g").attr("transform","translate(0,626)").call(d3.axisBottom(dxs).tickSize(3).tickFormat(""));
styleAxis(dxAxis,"#aaa",6); dxAxis.select(".domain").attr("stroke-width",1.3).attr("d","M445,0H548");
T(D,422,560,"CpG methylation (%)",8.8,{anchor:"middle",rot:-90});

// density panels
function density(g,id,x,y,layers,stipple,points){
  const cid="clip-"+id;
  defs.append("clipPath").attr("id",cid).append("rect").attr("x",x(0)-1).attr("y",y(100)-1).attr("width",x(100)-x(0)+2).attr("height",y(0)-y(100)+2);
  const p=g.append("g").attr("clip-path",`url(#${cid})`);
  const line=d3.line().x(d=>x(d[0])).y(d=>y(d[1])).curve(d3.curveCatmullRomClosed.alpha(.5));
  (stipple||[]).forEach(([k,pts])=>p.append("path").attr("d",line(pts)).attr("fill",`url(#st-${k})`));
  (points||[]).forEach(d=>p.append("rect").attr("x",x(d[0])).attr("y",y(d[1])).attr("width",1).attr("height",1).attr("fill","#30309a"));
  p.append("path").attr("d",line(layers[0][1])).attr("fill",densityColors[layers[0][0]]);
  const q=p.append("g").attr("filter","url(#soft)");
  layers.slice(1).forEach(([lev,pts])=>q.append("path").attr("d",line(pts)).attr("fill",densityColors[lev]));
}
const ticks100=[0,20,40,60,80,100];
// E
const E=svg.append("g");
const ex=d3.scaleLinear([0,100],[602.7,725]), ey=d3.scaleLinear([0,100],[620,498.3]);
density(E,"e",ex,ey,densityE,stippleE,pointsE);
axX(E,ex,626,ticks100,{pad:5}); axY(E,ey,598,ticks100,{off:10});
T(E,664,490,"CpG methylation (%)",8.8,{anchor:"middle"});
T(E,664,652,"HNES1",8.6,{anchor:"middle"});
T(E,577,560,"HNES3",8.6,{anchor:"middle",rot:-90});
T(E,723,612,"Genome",6.2,{anchor:"end"}); T(E,723,620,"R = 0.803",6.2,{anchor:"end"});
// F
const F=svg.append("g");
const f1x=d3.scaleLinear([0,100],[434.3,556.3]), fy=d3.scaleLinear([0,100],[826.3,704.3]), f2x=d3.scaleLinear([0,100],[602.7,725]);
density(F,"f1",f1x,fy,densityF1,stippleF1,pointsF1);
density(F,"f2",f2x,fy,densityF2,stippleF2,pointsF2);
axX(F,f1x,831.7,ticks100,{pad:5}); axY(F,fy,429.3,ticks100,{off:10});
axX(F,f2x,831.7,ticks100,{pad:5}); axY(F,fy,598,ticks100,{off:10});
T(F,407,770,"Primed HNES1",8.6,{anchor:"middle",rot:-90});
T(F,576,768,"Reset H9",8.6,{anchor:"middle",rot:-90});
T(F,554.7,819,"Chr 1",6.2,{anchor:"end"});
T(F,723,819,"Chr 1",6.2,{anchor:"end"}); T(F,723,826.5,"R = 0.834",6.2,{anchor:"end"});
F.append("path").attr("d","M432.7,854.7H727").attr("stroke","#222").attr("stroke-width",1.2);
T(F,579,866,"HNES1",8.6,{anchor:"middle"});
// G
const Gg=svg.append("g");
const gx=d3.scaleLinear([-40,60],[441.7,555]), gy=d3.scaleLinear([-60,40],[1030,917.7]);
Gg.append("rect").attr("x",432.3).attr("y",911.7).attr("width",131.4).attr("height",121.6).attr("fill","none").attr("stroke","#444").attr("stroke-width",1);
Gg.append("path").attr("d",`M${gx(0)},911.7V1033.3M432.3,${gy(0)}H563.7`).attr("stroke","#999").attr("stroke-dasharray","4 3").attr("stroke-width",.8);
axX(Gg,gx,1033.3,[-40,-20,0,20,40,60],{color:"#444",pad:1.5,size:5.8,noDomain:true,len:2.5});
axY(Gg,gy,432.3,[-60,-40,-20,0,20,40],{color:"#444",size:5.8,off:4.5,noDomain:true,len:2.5});
methPca.forEach(([s,x,y,c,a])=>{Gg.append("circle").attr("cx",gx(x)).attr("cy",gy(y)).attr("r",.9).attr("fill","#111");
  T(Gg,gx(x)+(a==="end"?-2:1.5),gy(y)+1.8,s,5.6,{anchor:a,fill:c});});
T(Gg,495,1053,"PC1 (42%)",8.8,{anchor:"middle"});
T(Gg,416,974,"PC2 (32%)",8.8,{anchor:"middle",rot:-90});
// H
const H=svg.append("g");
const hhx=d3.scaleLinear([0,100],[601.7,724]), hhy=d3.scaleLinear([0,100],[1033.7,911.7]);
density(H,"h",hhx,hhy,densityH,stippleH,pointsH);
axX(H,hhx,1038.7,ticks100,{pad:5}); axY(H,hhy,597.3,ticks100,{off:10});
T(H,663,906,"CGI methylation (%)",8.8,{anchor:"middle"});
T(H,663,1066,"HNES1",8.6,{anchor:"middle"});
T(H,576,973,"H9",8.6,{anchor:"middle",rot:-90});
T(H,723,1027,"Genome",6.2,{anchor:"end"});
</script></body></html>
